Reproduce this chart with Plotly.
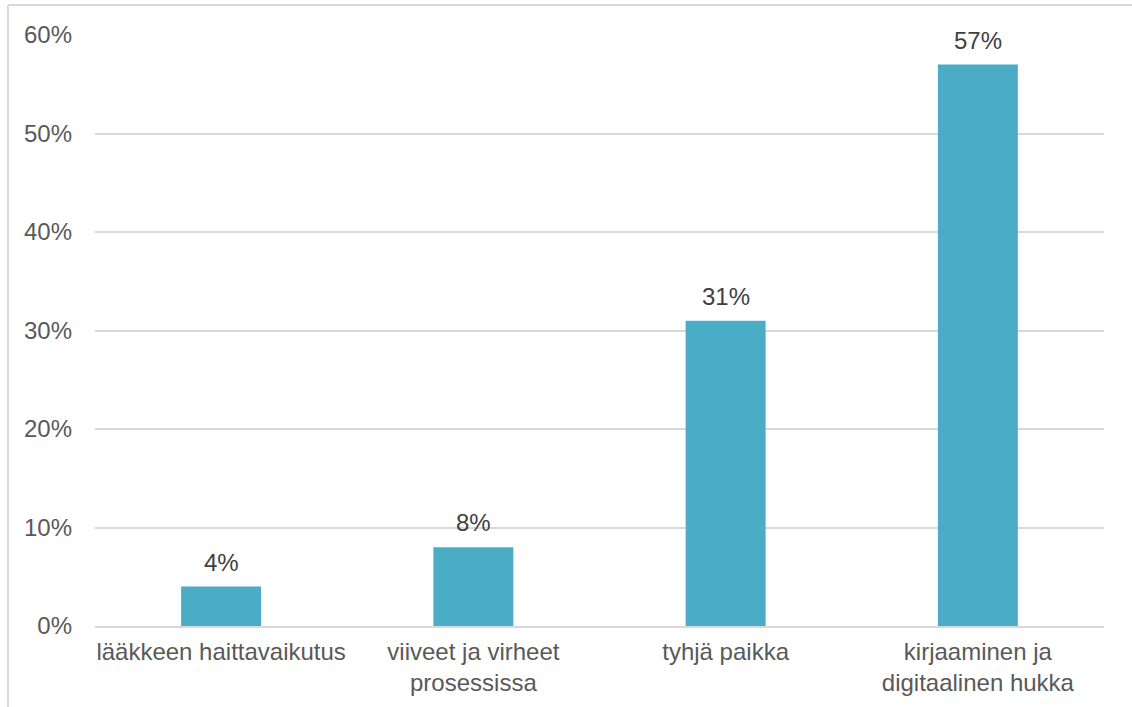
import plotly.graph_objects as go

categories = ["lääkkeen haittavaikutus", "viiveet ja virheet<br>prosessissa", "tyhjä paikka", "kirjaaminen ja<br>digitaalinen hukka"]
values = [4, 8, 31, 57]
labels = ["4%", "8%", "31%", "57%"]
tick_vals = [0, 10, 20, 30, 40, 50, 60]
tick_text = ["0%", "10%", "20%", "30%", "40%", "50%", "60%"]

W, H = 1132, 707
ml, mr, mt, mb = 95, 28, 35, 81
pw, ph = W - ml - mr, H - mt - mb
FONT = "Liberation Sans, Arial"

fig = go.Figure(go.Bar(
    x=categories, y=values,
    marker=dict(color="#4BACC6", line=dict(width=0)),
    hoverinfo="x+y",
))

for c, v, t in zip(categories, values, labels):
    fig.add_annotation(x=c, y=v, text=t, showarrow=False, yanchor="bottom",
                       yshift=9, font=dict(size=24, color="#404040", family=FONT))

fig.update_layout(
    width=W, height=H,
    margin=dict(l=ml, r=mr, t=mt, b=mb),
    plot_bgcolor="white", paper_bgcolor="white",
    bargap=0.683,
    showlegend=False,
    font=dict(family=FONT, color="#595959", size=24),
)
fig.update_yaxes(range=[0, 60], tickvals=tick_vals, ticktext=tick_text,
                 showgrid=True, gridcolor="#d9d9d9", gridwidth=1.5,
                 zeroline=False, showline=False, ticks="",
                 ticklabelstandoff=22,
                 tickfont=dict(size=24, color="#595959"))
fig.update_xaxes(showline=True, linecolor="#d9d9d9", linewidth=1.5, ticks="",
                 ticklabelstandoff=3,
                 tickfont=dict(size=24, color="#595959"))

# chart-area border (top and left visible)
x_left = (8 - ml) / pw
y_top = (H - mb - 5) / ph
fig.add_shape(type="line", xref="paper", yref="paper", x0=x_left, x1=1.2, y0=y_top, y1=y_top,
              line=dict(color="#d9d9d9", width=2))
fig.add_shape(type="line", xref="paper", yref="paper", x0=x_left, x1=x_left, y0=y_top, y1=-0.3,
              line=dict(color="#d9d9d9", width=2))

fig.write_html("out.html")
